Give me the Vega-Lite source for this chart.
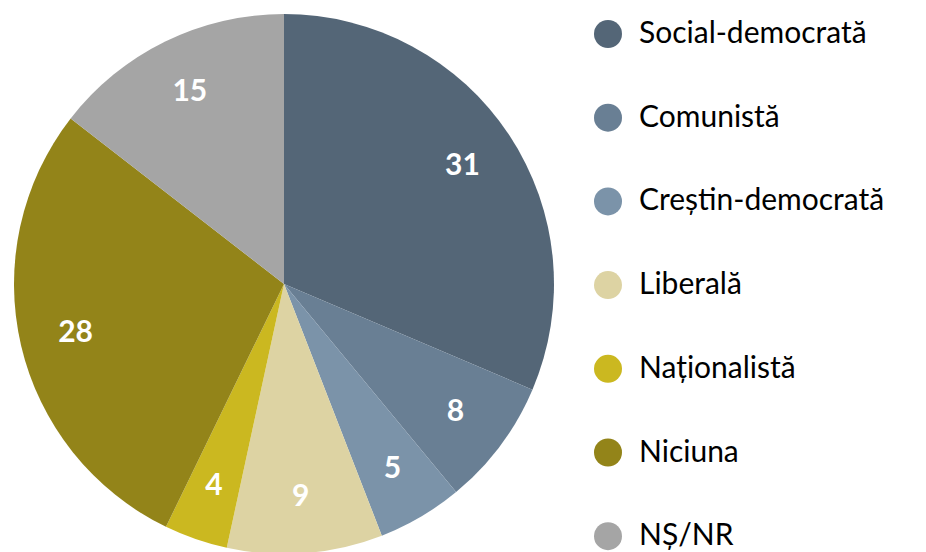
{
  "$schema": "https://vega.github.io/schema/vega-lite/v6.json",
  "width": 568,
  "height": 568,
  "padding": 0,
  "background": "white",
  "config": {"view": {"stroke": null}},
  "data": {
    "values": [
      {"partid": "Social-democrată", "procent": 31.4, "ordine": 1},
      {"partid": "Comunistă", "procent": 7.6, "ordine": 2},
      {"partid": "Creștin-democrată", "procent": 5.1, "ordine": 3},
      {"partid": "Liberală", "procent": 9.3, "ordine": 4},
      {"partid": "Naționalistă", "procent": 3.8, "ordine": 5},
      {"partid": "Niciuna", "procent": 28.3, "ordine": 6},
      {"partid": "NȘ/NR", "procent": 14.5, "ordine": 7}
    ]
  },
  "encoding": {
    "theta": {"field": "procent", "type": "quantitative", "stack": true},
    "order": {"field": "ordine", "type": "quantitative"}
  },
  "layer": [
    {
      "mark": {"type": "arc", "radius": 270, "stroke": null},
      "encoding": {
        "color": {
          "field": "partid",
          "type": "nominal",
          "sort": ["Social-democrată", "Comunistă", "Creștin-democrată", "Liberală", "Naționalistă", "Niciuna", "NȘ/NR"],
          "scale": {
            "domain": ["Social-democrată", "Comunistă", "Creștin-democrată", "Liberală", "Naționalistă", "Niciuna", "NȘ/NR"],
            "range": ["#546677", "#697f94", "#7b93a9", "#ddd3a3", "#cbb820", "#938419", "#a5a5a5"]
          },
          "legend": {
            "title": null,
            "orient": "none",
            "legendX": 593,
            "legendY": 19,
            "symbolType": "circle",
            "symbolSize": 784,
            "symbolStrokeWidth": 0,
            "symbolOpacity": 1,
            "labelFont": "Lato",
            "labelFontSize": 30,
            "labelColor": "#000000",
            "labelOffset": 16,
            "labelLimit": 400,
            "rowPadding": 53.7,
            "padding": 0
          }
        }
      }
    },
    {
      "mark": {"type": "text", "radius": 214, "font": "Lato", "fontSize": 30, "fontWeight": "bold", "color": "white", "align": "center", "baseline": "middle"},
      "encoding": {
        "text": {"field": "procent", "type": "quantitative", "format": ".0f"}
      }
    }
  ]
}
